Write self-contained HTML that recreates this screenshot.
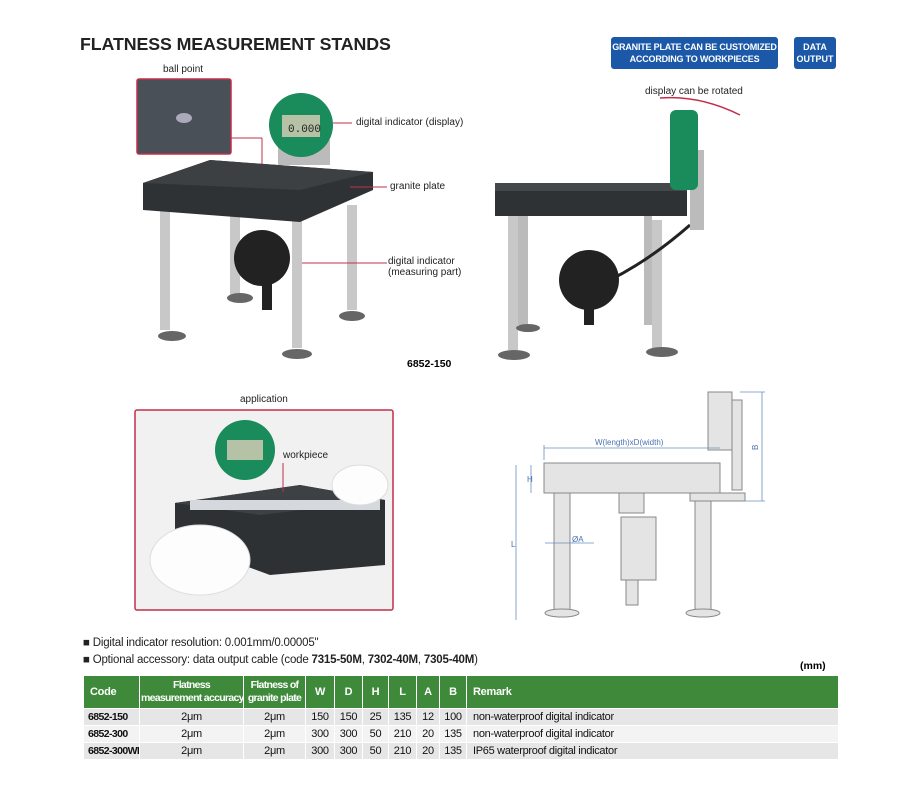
<!DOCTYPE html>
<html><head><meta charset="utf-8"><style>
body{margin:0;background:#fff;font-family:"Liberation Sans",Arial,sans-serif;}
#w{position:relative;width:900px;height:790px;overflow:hidden;}
.a{position:absolute;}
.t{font-size:10px;color:#222;}
table{position:absolute;left:83px;top:676px;width:755px;border-collapse:collapse;font-size:11px;table-layout:fixed;letter-spacing:-0.3px}
th{background:#3e8a3a;color:#fff;font-weight:bold;height:32px;border-left:1px solid #fff;padding:0 1px;line-height:13px;white-space:nowrap;overflow:hidden;font-size:11px}
th.s{font-size:10.5px;letter-spacing:-0.7px}
td{height:16px;border-left:1px solid #fff;text-align:center;padding:0 2px;color:#111;border-top:1px solid #fff;white-space:nowrap;overflow:hidden;line-height:16px}
tr.g td{background:#e6e6e6}
tr.l td{background:#f3f3f3}
td:first-child{text-align:left;font-weight:bold;padding-left:4px;font-size:10.5px;letter-spacing:-0.6px}
td:last-child{text-align:left;padding-left:6px}
</style></head><body><div id="w">
<div class="a" style="left:80px;top:34px;font-size:17.8px;font-weight:bold;color:#222;letter-spacing:-0.1px">FLATNESS MEASUREMENT STANDS</div>
<div class="a" style="left:611px;top:37px;width:167px;height:32px;background:#1b58a8;border-radius:3px;color:#fff;font-size:9px;font-weight:bold;text-align:center;line-height:12px;padding-top:4px;box-sizing:border-box;white-space:nowrap;letter-spacing:-0.2px">GRANITE PLATE CAN BE CUSTOMIZED<br>ACCORDING TO WORKPIECES</div>
<div class="a" style="left:794px;top:37px;width:42px;height:32px;background:#1b58a8;border-radius:3px;color:#fff;font-size:9px;font-weight:bold;text-align:center;line-height:12px;padding-top:4px;box-sizing:border-box">DATA<br>OUTPUT</div>

<svg class="a" style="left:0;top:0" width="900" height="640">
<rect x="137" y="79" width="94" height="75" fill="#4a5058" stroke="#c0304a" stroke-width="1.5" rx="2"/>
<ellipse cx="184" cy="118" rx="8" ry="5" fill="#aab"/>
<line x1="231" y1="138" x2="262" y2="138" stroke="#c0304a"/><line x1="262" y1="138" x2="262" y2="170" stroke="#c0304a"/>
<rect x="160" y="210" width="10" height="120" fill="#c8c8c8"/><ellipse cx="172" cy="336" rx="14" ry="5" fill="#666"/>
<rect x="230" y="210" width="10" height="85" fill="#c8c8c8"/><ellipse cx="240" cy="298" rx="13" ry="5" fill="#666"/>
<rect x="347" y="205" width="10" height="105" fill="#c8c8c8"/><ellipse cx="352" cy="316" rx="13" ry="5" fill="#666"/>
<rect x="292" y="220" width="10" height="128" fill="#c8c8c8"/><ellipse cx="297" cy="354" rx="15" ry="5" fill="#666"/>
<circle cx="262" cy="258" r="28" fill="#222"/><rect x="262" y="280" width="10" height="30" fill="#222"/>
<polygon points="143,183 210,160 373,172 373,190 300,222 143,210" fill="#2f3234"/>
<polygon points="143,183 210,160 373,172 300,190" fill="#3c4042"/>
<rect x="278" y="140" width="52" height="25" fill="#bbb"/>
<circle cx="301" cy="125" r="32" fill="#1a8b5b"/><rect x="282" y="115" width="38" height="22" fill="#b5c2a6"/>
<text x="288" y="132" font-size="11" font-family="Liberation Mono" fill="#222">0.000</text>
<line x1="333" y1="123" x2="352" y2="123" stroke="#c0304a"/><line x1="350" y1="187" x2="387" y2="187" stroke="#c0304a"/>
<line x1="302" y1="263" x2="387" y2="263" stroke="#c0304a"/>
<rect x="508" y="210" width="10" height="140" fill="#c8c8c8"/><ellipse cx="514" cy="355" rx="16" ry="5" fill="#666"/>
<rect x="518" y="210" width="10" height="115" fill="#bbb"/><ellipse cx="528" cy="328" rx="12" ry="4" fill="#666"/>
<rect x="652" y="220" width="10" height="130" fill="#c8c8c8"/><ellipse cx="662" cy="352" rx="16" ry="5" fill="#666"/>
<rect x="644" y="215" width="8" height="110" fill="#bbb"/>
<circle cx="589" cy="280" r="30" fill="#222"/><rect x="584" y="305" width="10" height="20" fill="#222"/>
<path d="M610 280 Q650 260 690 225" stroke="#222" stroke-width="3" fill="none"/>
<rect x="495" y="183" width="192" height="33" fill="#2f3234"/><rect x="495" y="183" width="192" height="8" fill="#44484a"/>
<rect x="690" y="150" width="14" height="80" fill="#bbb"/>
<rect x="670" y="110" width="28" height="80" rx="6" fill="#1a8b5b"/>
<path d="M660 98 Q700 95 740 115" stroke="#c0304a" fill="none" stroke-width="1.5"/>
<rect x="135" y="410" width="258" height="200" fill="#f1f1f1" stroke="#c0304a" stroke-width="1.5" rx="2"/>
<polygon points="175,503 300,485 385,500 385,565 270,575 175,540" fill="#2e3133"/>
<polygon points="175,503 300,485 385,500 260,515" fill="#3d4143"/>
<rect x="190" y="500" width="190" height="10" fill="#d5d9dd"/>
<circle cx="245" cy="450" r="30" fill="#1a8b5b"/><rect x="227" y="440" width="36" height="20" fill="#b5c2a6"/>
<ellipse cx="200" cy="560" rx="50" ry="35" fill="#fdfdfd" stroke="#ddd"/>
<ellipse cx="360" cy="485" rx="28" ry="20" fill="#fdfdfd" stroke="#ddd"/>
<line x1="283" y1="463" x2="283" y2="492" stroke="#c0304a"/>
<g stroke="#888" fill="#e4e4e4" stroke-width="1">
<rect x="544" y="463" width="176" height="30"/>
<rect x="554" y="493" width="16" height="118"/><ellipse cx="562" cy="613" rx="17" ry="4"/>
<rect x="695" y="496" width="16" height="115"/><ellipse cx="703" cy="613" rx="17" ry="4"/>
<rect x="690" y="493" width="55" height="8"/>
<rect x="619" y="493" width="25" height="20"/><rect x="621" y="517" width="35" height="63"/>
<rect x="626" y="580" width="12" height="25"/>
<rect x="708" y="392" width="24" height="58"/><rect x="732" y="400" width="10" height="90"/>
</g>
<g stroke="#6a8fc0" stroke-width="0.8" fill="none">
<line x1="544" y1="448" x2="720" y2="448"/><line x1="544" y1="445" x2="544" y2="460"/>
<line x1="762" y1="392" x2="762" y2="501"/><line x1="740" y1="392" x2="765" y2="392"/><line x1="745" y1="501" x2="765" y2="501"/>
<line x1="531" y1="465" x2="531" y2="493"/><line x1="516" y1="465" x2="516" y2="620"/>
<line x1="545" y1="543" x2="594" y2="543"/>
</g>
<g font-size="8" fill="#4a72b0"><text x="595" y="445">W(length)xD(width)</text><text x="572" y="542">ØA</text>
<text x="527" y="482">H</text><text x="511" y="547">L</text><text x="758" y="450" transform="rotate(-90 758 450)">B</text></g>
</svg>
<div class="a t" style="left:163px;top:64px">ball point</div>
<div class="a t" style="left:356px;top:117px">digital indicator (display)</div>
<div class="a t" style="left:390px;top:181px">granite plate</div>
<div class="a t" style="left:388px;top:256px;line-height:11px">digital indicator<br>(measuring part)</div>
<div class="a" style="left:407px;top:358px;font-size:10.5px;font-weight:bold">6852-150</div>
<div class="a t" style="left:645px;top:86px">display can be rotated</div>
<div class="a t" style="left:240px;top:394px">application</div>
<div class="a t" style="left:283px;top:450px">workpiece</div>
<div class="a" style="left:83px;top:637px;font-size:11.5px;color:#222;letter-spacing:-0.2px">■ Digital indicator resolution: 0.001mm/0.00005"</div>
<div class="a" style="left:83px;top:654px;font-size:11.5px;color:#222;letter-spacing:-0.2px">■ Optional accessory: data output cable (code <b>7315-50M</b>, <b>7302-40M</b>, <b>7305-40M</b>)</div>
<div class="a" style="left:800px;top:660px;font-size:10.5px;font-weight:bold">(mm)</div>
<table>
<colgroup><col style="width:56px"><col style="width:104px"><col style="width:62px"><col style="width:29px"><col style="width:28px"><col style="width:26px"><col style="width:28px"><col style="width:23px"><col style="width:27px"><col></colgroup>
<tr><th style="text-align:left;padding-left:6px">Code</th><th class="s">Flatness<br>measurement accuracy</th><th class="s">Flatness of<br>granite plate</th><th>W</th><th>D</th><th>H</th><th>L</th><th>A</th><th>B</th><th style="text-align:left;padding-left:6px">Remark</th></tr>
<tr class="g"><td>6852-150</td><td>2μm</td><td>2μm</td><td>150</td><td>150</td><td>25</td><td>135</td><td>12</td><td>100</td><td>non-waterproof digital indicator</td></tr>
<tr class="l"><td>6852-300</td><td>2μm</td><td>2μm</td><td>300</td><td>300</td><td>50</td><td>210</td><td>20</td><td>135</td><td>non-waterproof digital indicator</td></tr>
<tr class="g"><td>6852-300WP</td><td>2μm</td><td>2μm</td><td>300</td><td>300</td><td>50</td><td>210</td><td>20</td><td>135</td><td>IP65 waterproof digital indicator</td></tr>
</table>
</div></body></html>
